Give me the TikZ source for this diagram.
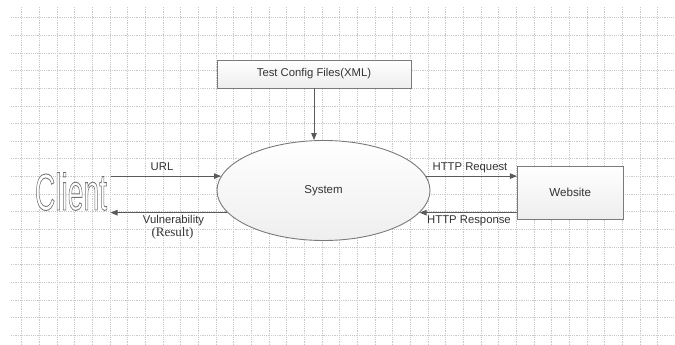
\documentclass[tikz,border=0pt]{standalone}
\usepackage{fontspec}
\setmainfont{Liberation Sans}
\newfontfamily\serifface{Liberation Serif}
\usepackage{graphicx}
\usetikzlibrary{arrows.meta,shapes.geometric}

\definecolor{inkgray}{HTML}{333333}
\definecolor{linegray}{HTML}{5A5A5A}
\definecolor{edgegray}{HTML}{7A7A7A}
\definecolor{gridgray}{HTML}{CACACA}

% hollow lettering: white fill, grey stroke (PDF text render mode 2)
\newcommand{\hollowtext}[1]{{\color{white}%
  \special{pdf:code q 2 Tr 0.9 w 0.45 0.45 0.45 RG}#1\special{pdf:code Q}}}

\tikzset{
  gridline/.style={draw=gridgray, line width=0.6pt, dash pattern=on 1.2pt off 1pt},
  procbox/.style={rectangle, draw=edgegray, line width=0.8pt,
    top color=white, bottom color=gray!14, text=inkgray,
    font=\fontsize{11.3}{13}\selectfont, inner sep=0pt},
  procell/.style={ellipse, draw=edgegray, line width=0.9pt,
    top color=white, bottom color=gray!13, text=inkgray,
    font=\fontsize{11.5}{13}\selectfont, inner sep=0pt},
  flow/.style={draw=linegray, line width=0.9pt,
    -{Triangle[length=7pt,width=5.5pt]}},
  flowlabel/.style={text=inkgray, font=\fontsize{11.3}{13}\selectfont, inner sep=0pt},
}

\begin{document}
\begin{tikzpicture}[x=1pt, y=-1pt]
  \useasboundingbox (0,0) rectangle (675,345);
  \fill[white] (0,0) rectangle (675,345);

  % background grid
  \foreach \k in {0,...,36}
    \draw[gridline] ({21.7+17.66*\k},7) -- ({21.7+17.66*\k},345);
  \foreach \k in {0,...,18}
    \draw[gridline] (11,{17.5+17.66*\k}) -- (675,{17.5+17.66*\k});

  % nodes
  \node[procbox, minimum width=194pt, minimum height=28pt] (cfg) at (314,74)
    {Test Config Files(XML)};
  \node[procell, minimum width=213pt, minimum height=100pt] (sys) at (323.5,190.5)
    {System};
  \node[procbox, minimum width=106pt, minimum height=53pt, font=\fontsize{11.6}{13}\selectfont]
    (web) at (570.3,192.5) {Website};
  \node[inner sep=0pt, anchor=base] (client) at (71,210)
    {\scalebox{0.545}[1]{\fontsize{51.7}{52}\selectfont\hollowtext{Client}}};
  \coordinate (cl) at (110.5,0);

  % connectors
  \draw[flow] (cfg.south) -- (cfg.south |- sys.north);
  \draw[flow] (sys.172.5 -| cl) -- (sys.172.5);
  \draw[flow] (sys.193.6) -- (sys.193.6 -| cl);
  \draw[flow] (sys.8) -- (sys.8 -| web.west);
  \draw[flow] (web.west |- sys.347.5) -- (sys.347.5);

  % labels
  \node[flowlabel] (lurl) at (162,167) {URL};
  \node[flowlabel] (lvul) at (173.5,221) {Vulnerability};
  \node[flowlabel, font=\serifface\fontsize{13}{14}\selectfont] (lres) at (172.5,233) {(Result)};
  \node[flowlabel] (lreq) at (470,168) {HTTP Request};
  \node[flowlabel] (lresp) at (469,221) {HTTP Response};
\end{tikzpicture}
\end{document}
